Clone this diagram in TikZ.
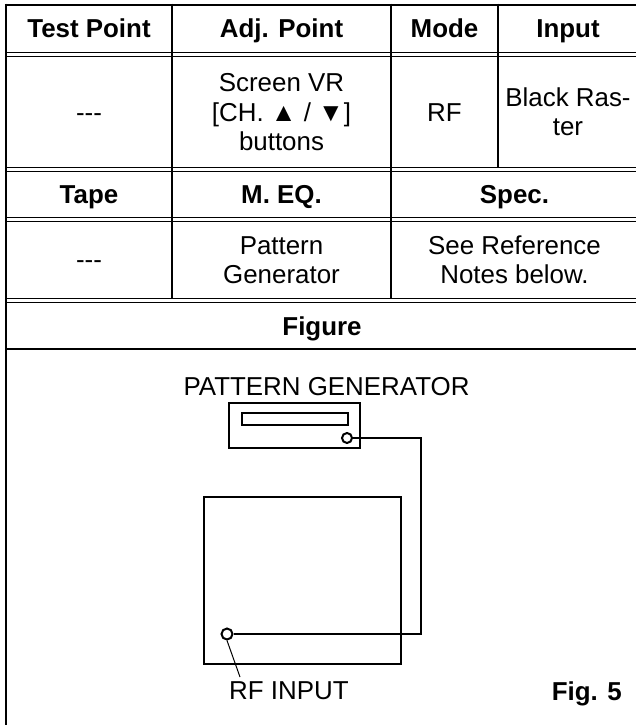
\documentclass[tikz,border=0pt]{standalone}
\usepackage{fontspec}
\setmainfont{Liberation Sans}
\usetikzlibrary{positioning}

\tikzset{
  cell/.style={anchor=base, align=center, inner sep=0pt, font=\fontsize{25.9}{29}\selectfont},
  head/.style={cell, font=\fontsize{25.9}{29}\selectfont\bfseries},
  rule/.style={line width=2.5pt},
  hair/.style={line width=1pt},
  wire/.style={line width=2pt},
  box/.style={draw, wire, inner sep=0pt},
  jack/.style={draw, wire, circle, fill=white, inner sep=0pt, minimum size=10pt},
}

\begin{document}
\begin{tikzpicture}[x=1pt, y=-1pt]
  \useasboundingbox (0,0) rectangle (635,725);

  % Table rules
  \draw[rule] (4.75,5) -- (640,5);
  \draw[rule] (6,3.75) -- (6,725);
  \foreach \xx in {172,391} \draw[rule] (\xx,3.75) -- (\xx,298);
  \draw[rule] (498,3.75) -- (498,167);
  \foreach \yy in {53,167,217,298} {
    \draw[hair] (6,\yy) -- (640,\yy);
    \draw[hair] (6,\yy+4) -- (640,\yy+4);
  }
  \draw[rule] (6,349) -- (640,349);

  % Header row
  \node[head] (tp) at (89,37.5) {Test Point};
  \node[head] (adj) at (281.5,37.5) {Adj. Point};
  \node[head] (mode) at (444.5,37.5) {Mode};
  \node[head] (input) at (568,37.5) {Input};

  % Adjustment row
  \node[cell] (tpval) at (89,121) {-{}-{}-};
  \node[cell] (adjA) at (281.5,92) {Screen VR};
  \node[cell] (adjB) at (281.5,121) {[CH. ▲ / ▼]};
  \node[cell] (adjC) at (281.5,150) {buttons};
  \node[cell] (rfmode) at (444.5,121) {RF};
  \node[cell] (rasA) at (568,106.5) {Black Ras-};
  \node[cell] (rasB) at (568,135.5) {ter};

  % Second header row
  \node[head] (tape) at (89,203) {Tape};
  \node[head] (meq) at (281.5,203) {M. EQ.};
  \node[head] (spec) at (514.5,203) {Spec.};

  % Equipment row
  \node[cell] (tapeval) at (89,268) {-{}-{}-};
  \node[cell] (meqA) at (281.5,254) {Pattern};
  \node[cell] (meqB) at (281.5,283) {Generator};
  \node[cell] (specA) at (514.5,254) {See Reference};
  \node[cell] (specB) at (514.5,283) {Notes below.};

  % Figure header
  \node[head] (figure) at (322,335) {Figure};

  % Connection drawing
  \node[cell] (pglabel) at (326.5,395) {PATTERN GENERATOR};
  \node[box, minimum width=131pt, minimum height=45pt] (gen) at (294.5,425.5) {};
  \node[box, minimum width=106pt, minimum height=12pt] (slot) at (295,419) {};
  \node[jack] (knob) at (347,438) {};
  \node[box, minimum width=197pt, minimum height=167pt] (tv) at (302.5,580.5) {};
  \node[jack, minimum size=11pt] (rfin) at (227,634) {};
  \coordinate (bend) at (421,438);
  \draw[wire] (knob.east) -- (bend) |- (rfin.east);

  \node[cell, anchor=base west] (rflabel) at (229,699) {RF INPUT};
  \coordinate (leadend) at (240,677);
  \draw[hair] (rfin.south) -- (leadend);

  \node[head, anchor=base east] (figno) at (622,700) {Fig. 5};

\end{tikzpicture}
\end{document}
